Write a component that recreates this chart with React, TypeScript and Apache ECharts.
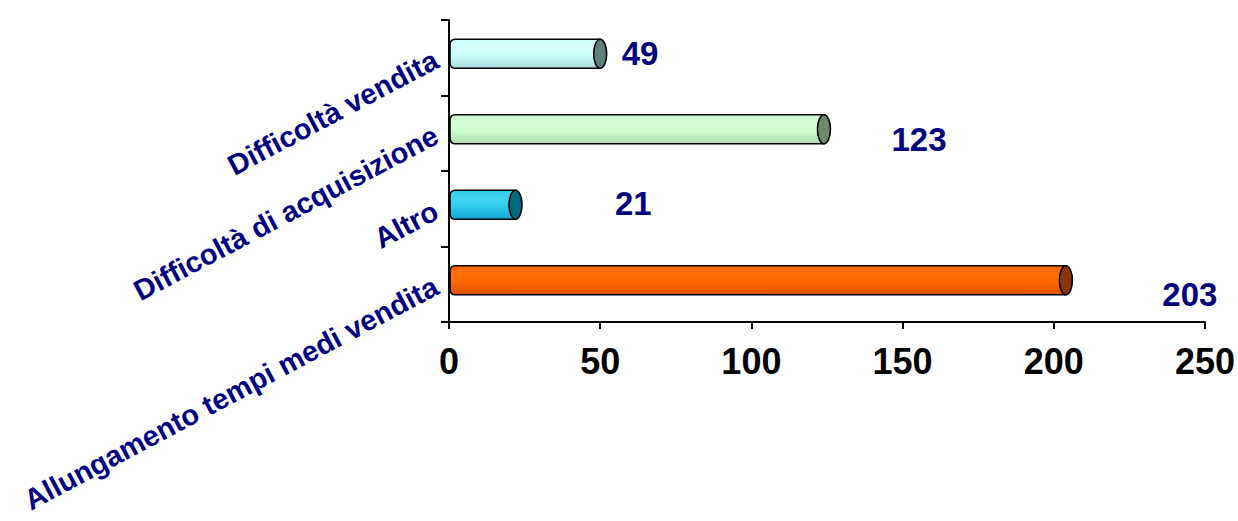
import React, { useEffect, useRef } from "react";
import * as echarts from "echarts";

const categories: string[] = [
  "Allungamento tempi medi vendita",
  "Altro",
  "Difficoltà di acquisizione",
  "Difficoltà vendita",
];
const values: number[] = [203, 21, 123, 49];
const xTicks = { min: 0, max: 250, interval: 50 };

// styles (not data)
const bodyTop = ["#FF6600", "#33CCF0", "#CCFFCC", "#CCFFFF"];
const bodyMid = ["#FF7008", "#44D4F4", "#D6FFD6", "#D6FFFF"];
const bodyBottom = ["#DA5200", "#10A4D4", "#ACDCAC", "#A8DADA"];
const capColor = ["#8A360C", "#006A80", "#6A8A6A", "#5F7F7B"];
const labelGap = [90, 93, 61, 15];
const labelDy = [14, -1, 10, 0];

const FONT = "Arial, 'Liberation Sans', sans-serif";

export default function App() {
  const ref = useRef<HTMLDivElement>(null);
  useEffect(() => {
    if (!ref.current) return;
    const chart = echarts.init(ref.current, null, { renderer: "svg" });
    const option: any = {
      animation: false,
      backgroundColor: "#ffffff",
      grid: {
        left: 449,
        top: 20,
        width: 756,
        height: 302,
        containLabel: false,
        outerBoundsMode: "none",
      },
      xAxis: {
        type: "value",
        min: xTicks.min,
        max: xTicks.max,
        interval: xTicks.interval,
        splitLine: { show: false },
        axisLine: { show: true, lineStyle: { color: "#000", width: 2 } },
        axisTick: { show: true, inside: false, length: 7, lineStyle: { color: "#000", width: 2 } },
        axisLabel: {
          color: "#000",
          fontSize: 36,
          fontWeight: "bold",
          fontFamily: FONT,
          margin: 21,
        },
      },
      yAxis: {
        type: "category",
        data: categories,
        axisLine: { show: true, lineStyle: { color: "#000", width: 2 } },
        axisTick: { show: true, inside: false, length: 8, lineStyle: { color: "#000", width: 2 } },
        splitLine: { show: false },
        axisLabel: {
          color: "#000080",
          fontSize: 29,
          fontWeight: "bold",
          fontFamily: FONT,
          rotate: 28,
          margin: 13,
          verticalAlign: "middle",
          interval: 0,
        },
      },
      series: [
        {
          type: "custom",
          data: values.map((v, i) => [v, i]),
          encode: { x: 0, y: 1 },
          renderItem: (params: any, api: any) => {
            const idx = params.dataIndex;
            const v = api.value(0);
            const c = api.value(1);
            const end = api.coord([v, c]);
            const start = api.coord([0, c]);
            const band = api.size([0, 1])[1];
            const h = band * 0.385;
            const cy = end[1] - 4;
            const rx = 6.5;
            const cx = end[0] + 3;
            const grad = new echarts.graphic.LinearGradient(0, 0, 0, 1, [
              { offset: 0, color: bodyTop[idx] },
              { offset: 0.3, color: bodyMid[idx] },
              { offset: 0.55, color: bodyTop[idx] },
              { offset: 1, color: bodyBottom[idx] },
            ]);
            return {
              type: "group",
              children: [
                {
                  type: "rect",
                  shape: { x: start[0] + 1, y: cy - h / 2, width: cx - start[0] - 1, height: h, r: [5, 0, 0, 5] },
                  style: { fill: grad, stroke: "#000", lineWidth: 1.6 },
                },
                {
                  type: "ellipse",
                  shape: { cx: cx, cy: cy, rx: rx, ry: h / 2 },
                  style: { fill: capColor[idx], stroke: "#000", lineWidth: 1.6 },
                },
                {
                  type: "text",
                  x: cx + rx + labelGap[idx],
                  y: cy + labelDy[idx],
                  style: {
                    text: String(values[idx]),
                    fill: "#000080",
                    fontSize: 33,
                    fontWeight: "bold",
                    fontFamily: FONT,
                    align: "left",
                    verticalAlign: "middle",
                  },
                },
              ],
            };
          },
        },
      ],
    };
    chart.setOption(option);
    return () => chart.dispose();
  }, []);
  return (
    <div
      ref={ref}
      style={{ position: "fixed", left: 0, top: 0, width: 1238, height: 521, background: "#fff" }}
    />
  );
}
